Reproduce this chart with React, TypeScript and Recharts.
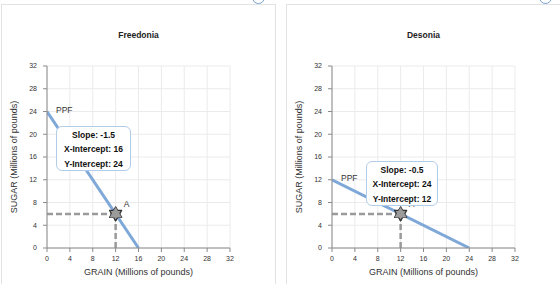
import React from "react"
import {
  ComposedChart,
  Line,
  Scatter,
  XAxis,
  YAxis,
  CartesianGrid,
  ReferenceLine,
} from "recharts"

const axisTicks = [0, 4, 8, 12, 16, 20, 24, 28, 32]

const freedoniaPPF = [
  { grain: 0, sugar: 24 },
  { grain: 16, sugar: 0 },
]
const desoniaPPF = [
  { grain: 0, sugar: 12 },
  { grain: 24, sugar: 0 },
]
const freedoniaPoint = [{ grain: 12, sugar: 6 }]
const desoniaPoint = [{ grain: 12, sugar: 6 }]

const freedoniaStats = ["Slope: -1.5", "X-Intercept: 16", "Y-Intercept: 24"]
const desoniaStats = ["Slope: -0.5", "X-Intercept: 24", "Y-Intercept: 12"]

const FONT = "'Liberation Sans', Arial, sans-serif"
const LINE_BLUE = "#7ea8d8"
const DASH_GRAY = "#9a9a9a"

function Star({ cx, cy }: any) {
  if (cx == null || cy == null) return null
  const r = 7
  const tri = (rot: number) =>
    [0, 1, 2]
      .map((i) => {
        const a = rot + (i * 2 * Math.PI) / 3
        return `${cx + r * Math.sin(a)},${cy - r * Math.cos(a)}`
      })
      .join(" ")
  return (
    <g>
      <polygon points={tri(0)} fill="#9b9b9b" stroke="#333" strokeWidth={1.2} strokeLinejoin="round" />
      <polygon points={tri(Math.PI)} fill="#9b9b9b" stroke="#333" strokeWidth={1.2} strokeLinejoin="round" />
      <polygon points={tri(0)} fill="#9b9b9b" stroke="none" />
      <text x={cx + 8} y={cy - 7} fontSize={8.5} fill="#333" fontFamily={FONT}>
        A
      </text>
    </g>
  )
}

function YTitle({ viewBox }: any) {
  const x = viewBox.x + 3
  const y = viewBox.y + viewBox.height / 2
  return (
    <text
      x={x}
      y={y}
      transform={`rotate(-90 ${x} ${y})`}
      textAnchor="middle"
      dominantBaseline="central"
      fontSize={9}
      fill="#333"
      fontFamily={FONT}
    >
      SUGAR (Millions of pounds)
    </text>
  )
}

function XTitle({ viewBox }: any) {
  return (
    <text
      x={viewBox.x + viewBox.width / 2}
      y={viewBox.y + 27}
      textAnchor="middle"
      fontSize={9}
      fill="#333"
      fontFamily={FONT}
    >
      GRAIN (Millions of pounds)
    </text>
  )
}

function Panel({ title, ppf, point, stats, left, box }: any) {
  const ppfLabel = (p: any) =>
    p.index === 0 ? (
      <text key="ppf" x={p.x + 9} y={p.y + 1} fontSize={8.5} fill="#333" fontFamily={FONT}>
        PPF
      </text>
    ) : null
  const pt = point[0]
  return (
    <div
      style={{
        position: "absolute",
        left,
        top: 4,
        width: 275,
        height: 290,
        borderLeft: "1.5px solid #e2e2e2",
        borderRight: "1.5px solid #e2e2e2",
        borderTop: "1.5px solid #e2e2e2",
        boxSizing: "border-box",
      }}
    >
      <div
        style={{
          position: "absolute",
          left: 0,
          right: 0,
          top: 25,
          textAlign: "center",
          fontWeight: "bold",
          fontSize: 8.5,
          color: "#222",
        }}
      >
        {title}
      </div>
      <div style={{ position: "absolute", left: -1, top: -4 }}>
        <ComposedChart width={276} height={284} margin={{ top: 65, right: 47, bottom: 5, left: 10 }}>
          <CartesianGrid stroke="#ebebeb" strokeWidth={1} />
          <XAxis
            type="number"
            dataKey="grain"
            domain={[0, 32]}
            ticks={axisTicks}
            interval={0}
            height={32}
            allowDataOverflow
            stroke="#8a8a8a"
            tickSize={4}
            tickMargin={4}
            tick={{ fontSize: 7, fill: "#333", fontFamily: FONT }}
            label={<XTitle />}
          />
          <YAxis
            type="number"
            dataKey="sugar"
            domain={[0, 32]}
            ticks={axisTicks}
            interval={0}
            width={36}
            allowDataOverflow
            stroke="#8a8a8a"
            tickSize={4}
            tickMargin={6}
            tick={{ fontSize: 7, fill: "#333", fontFamily: FONT }}
            label={<YTitle />}
          />
          <Line
            data={ppf}
            dataKey="sugar"
            stroke={LINE_BLUE}
            strokeWidth={3}
            dot={false}
            activeDot={false}
            isAnimationActive={false}
            label={ppfLabel}
          />
          <ReferenceLine
            segment={[
              { x: 0, y: pt.sugar },
              { x: pt.grain, y: pt.sugar },
            ]}
            stroke={DASH_GRAY}
            strokeWidth={2.5}
            strokeDasharray="6 3"
          />
          <ReferenceLine
            segment={[
              { x: pt.grain, y: 0 },
              { x: pt.grain, y: pt.sugar },
            ]}
            stroke={DASH_GRAY}
            strokeWidth={2.5}
            strokeDasharray="6 3"
          />
          <Scatter data={point} dataKey="sugar" shape={<Star />} isAnimationActive={false} />
        </ComposedChart>
      </div>
      <div
        style={{
          position: "absolute",
          left: box.left,
          top: box.top,
          width: box.width,
          height: 45,
          boxSizing: "border-box",
          border: "1.5px solid #b2cdea",
          borderRadius: 6,
          background: "#fff",
          textAlign: "center",
          fontWeight: "bold",
          fontSize: 8.5,
          lineHeight: "14.5px",
          paddingTop: 0.5,
          color: "#111",
        }}
      >
        {stats.map((s: string) => (
          <div key={s}>{s}</div>
        ))}
      </div>
    </div>
  )
}

export default function App() {
  return (
    <div
      style={{
        position: "absolute",
        left: 0,
        top: 0,
        width: 560,
        height: 284,
        overflow: "hidden",
        background: "#fff",
        fontFamily: FONT,
      }}
    >
      <Panel
        title="Freedonia"
        ppf={freedoniaPPF}
        point={freedoniaPoint}
        stats={freedoniaStats}
        left={1}
        box={{ left: 54, top: 121, width: 75 }}
      />
      <Panel
        title="Desonia"
        ppf={desoniaPPF}
        point={desoniaPoint}
        stats={desoniaStats}
        left={286}
        box={{ left: 79, top: 156, width: 72 }}
      />
      <div
        style={{
          position: "absolute",
          left: 252,
          top: -9,
          width: 11,
          height: 11,
          borderRadius: "50%",
          border: "1.5px solid #7aa3d3",
        }}
      />
      <div
        style={{
          position: "absolute",
          left: 539,
          top: -9,
          width: 11,
          height: 11,
          borderRadius: "50%",
          border: "1.5px solid #7aa3d3",
        }}
      />
    </div>
  )
}
